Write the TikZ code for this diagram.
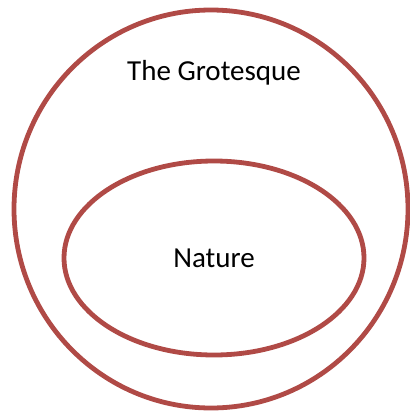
\documentclass[tikz,border=0pt]{standalone}
\usepackage{fontspec}
\setmainfont{Carlito}
\definecolor{ring}{RGB}{176,74,70}
\begin{document}
\begin{tikzpicture}[x=1pt,y=-1pt,
  ringline/.style={draw=ring,line width=4.8pt},
  lbl/.style={font=\fontsize{29}{33}\selectfont,text=black}]
\useasboundingbox (0,0) rectangle (410,413);
\draw[ringline] (211,209) ellipse [x radius=197, y radius=199];
\draw[ringline] (214,258) ellipse [x radius=150, y radius=97];
\node[lbl] (outer) at (214,73) {The Grotesque};
\node[lbl] (inner) at (214,258) {Nature};
\end{tikzpicture}
\end{document}
